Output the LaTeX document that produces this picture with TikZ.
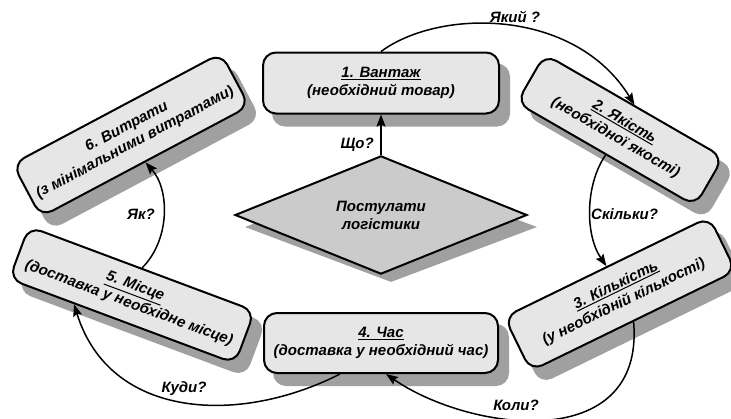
\documentclass[tikz,border=0pt]{standalone}
\usepackage{fontspec}
\setmainfont{Liberation Sans}
\usetikzlibrary{shapes.geometric,arrows.meta,calc}

\definecolor{boxfill}{HTML}{E6E6E6}
\definecolor{diamfill}{HTML}{CBCBCB}
\definecolor{shadowgray}{HTML}{A0A0A0}

% underlined heading line of a card
\newcommand\headline[1]{\vtop{\hbox{#1}\kern1.2pt\hrule height 1pt}}

\begin{document}
\begin{tikzpicture}[x=1pt,y=-1pt,
  txt/.style={font=\bfseries\itshape\fontsize{15}{18}\selectfont},
  card/.style={txt, draw=black, line width=2pt, fill=boxfill,
    rounded corners=13pt, align=center, inner sep=0pt},
  cardshadow/.style={fill=shadowgray, rounded corners=13pt, inner sep=0pt},
  conn/.style={line width=1.5pt, -{Stealth[length=12pt,width=9pt,inset=2pt]}},
  lbl/.style={txt, inner sep=0pt}]
\useasboundingbox (0,0) rectangle (731,418);

% shadows
\node[cardshadow, minimum width=238pt, minimum height=63pt] (s1) at (391,95) {};
\node[cardshadow, minimum width=208pt, minimum height=58pt, rotate=-30] (s2) at (630,142) {};
\node[cardshadow, minimum width=230pt, minimum height=62pt, rotate=26] (s3) at (630,306) {};
\node[cardshadow, minimum width=236pt, minimum height=62pt] (s4) at (391,355) {};
\node[cardshadow, minimum width=243pt, minimum height=58pt, rotate=-20.5] (s5) at (142,307) {};
\node[cardshadow, minimum width=238pt, minimum height=62pt, rotate=28] (s6) at (141,147) {};
\node[diamond, fill=shadowgray, minimum width=292pt, minimum height=110pt, inner sep=0pt] (ds) at (391,227) {};

% central diamond
\node[diamond, draw=black, line width=2pt, fill=diamfill, minimum width=292pt,
  minimum height=110pt, inner sep=0pt, txt, align=center] (d) at (381,215)
  {Постулати\\логістики};

% cards
\node[card, minimum width=236pt, minimum height=61pt] (b1) at (381,83)
  {\headline{1. Вантаж}\\(необхідний товар)};
\node[card, minimum width=206pt, minimum height=56pt, rotate=-30] (b2) at (620,130)
  {\headline{2. Якість}\\(необхідної якості)};
\node[card, minimum width=228pt, minimum height=60pt, rotate=26] (b3) at (620,294)
  {\headline{3. Кількість}\\(у необхідній кількості)};
\node[card, minimum width=234pt, minimum height=60pt] (b4) at (381,343)
  {\headline{4. Час}\\(доставка у необхідний час)};
\node[card, minimum width=241pt, minimum height=56pt, rotate=-20.5] (b5) at (132,295)
  {\headline{5. Місце}\\(доставка у необхідне місце)};
\node[card, minimum width=236pt, minimum height=60pt, rotate=28] (b6) at (131,135)
  {6. Витрати\\(з мінімальними витратами)};

% connectors
\draw[conn] (d.north) -- (b1.south);
\draw[conn] (b1.north) .. controls (440,8) and (575,8) .. (b2.north);
\draw[conn] (b2.south) .. controls (585,185) and (585,235) .. (b3.north);
\draw[conn] (b3.south) .. controls (645,455) and (470,432) .. ([xshift=5pt]b4.south);
\coordinate (k5) at ($(b5.south)!0.42!(b5.south west)$);
\draw[conn] ([xshift=-41pt]b4.south) .. controls (240,425) and (110,420) .. (k5);
\draw[conn] (b5.north) .. controls (170,240) and (170,190) .. (b6.south);

% labels
\node[lbl, anchor=east] (q1) at (374,145) {Що?};
\node[lbl] (q2) at (515,17) {Який ?};
\node[lbl, anchor=west] (q3) at (591,214) {Скільки?};
\node[lbl] (q4) at (516,405) {Коли?};
\node[lbl] (q5) at (184,389) {Куди?};
\node[lbl] (q6) at (141,214) {Як?};
\end{tikzpicture}
\end{document}
